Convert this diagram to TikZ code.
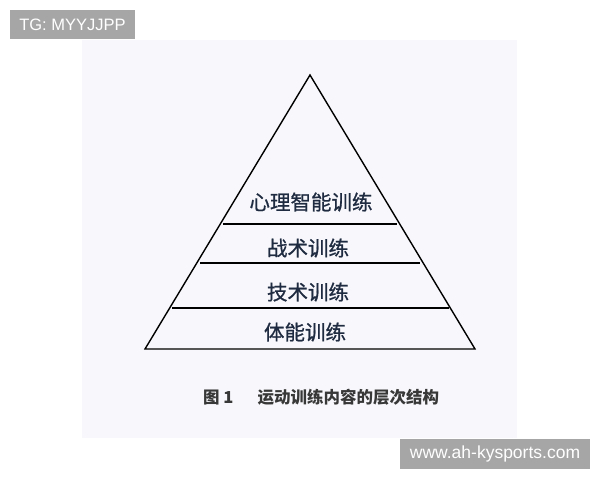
\documentclass[tikz,border=0pt]{standalone}
\usepackage{fontspec}
\setmainfont{Liberation Sans}
\newfontfamily\cjk{Noto Sans CJK SC}
\newfontfamily\cjkmid[FakeBold=0.8]{Noto Sans CJK SC}
\usepackage{tikz}

\definecolor{paper}{HTML}{F8F7FB}
\definecolor{ink}{HTML}{1E2B40}
\definecolor{markgray}{HTML}{A6A6A6}

\tikzset{
    layer/.style={font=\cjkmid\fontsize{20.5}{21}\selectfont, text=ink, inner sep=0pt},
    markbox/.style={fill=markgray},
    marktext/.style={text=white, inner sep=0pt},
}

\begin{document}
\begin{tikzpicture}[x=1pt,y=-1pt]
    \useasboundingbox (0,0) rectangle (600,480);
    \fill[white] (0,0) rectangle (600,480);
    \fill[paper] (82,40) rectangle (517,438);

    % Pyramid outline
    \coordinate (top) at (310,75);
    \coordinate (baseL) at (145,349);
    \coordinate (baseR) at (475,349);
    \draw[line width=1.4pt, line join=miter] (top) -- (baseL) -- (baseR) -- cycle;

    % Dividing lines
    \draw[line width=1.8pt] (223,224) -- (397,224);
    \draw[line width=1.8pt] (200,263) -- (420,263);
    \draw[line width=1.8pt] (172,308) -- (449,308);

    % Layer labels
    \node[layer] (mind) at (311,202) {心理智能训练};
    \node[layer] (tactic) at (308,248) {战术训练};
    \node[layer] (skill) at (308,292) {技术训练};
    \node[layer] (body) at (305,332) {体能训练};

    % Caption
    \node[font=\cjk\bfseries\fontsize{16.5}{17}\selectfont, text=black!78, inner sep=0pt, anchor=west] (fig) at (203,397) {图 1\hspace{24pt}运动训练内容的层次结构};

    % Watermarks
    \fill[markbox] (10,10) rectangle (135,39);
    \node[marktext, font=\fontsize{16.5}{16.5}\selectfont] (tg) at (72.5,25) {TG: MYYJJPP};
    \fill[markbox] (400,439) rectangle (590,469);
    \node[marktext, font=\fontsize{17.5}{17.5}\selectfont] (site) at (495,454) {www.ah-kysports.com};
\end{tikzpicture}
\end{document}
